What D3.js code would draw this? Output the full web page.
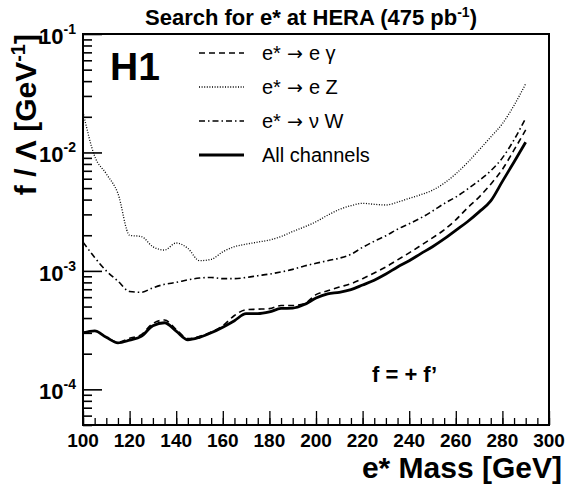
<!DOCTYPE html>
<html>
<head>
<meta charset="utf-8">
<script src="https://cdn.jsdelivr.net/npm/d3@7"></script>
<style>
body { margin: 0; background: #fff; }
svg { display: block; font-family: "Liberation Sans", Arial, Helvetica, sans-serif; }
</style>
</head>
<body>
<div id="chart"></div>
<script>
// e* limit curves, f/Lambda vs mass

var mass = [100,105,110,115,120,125,130,135,140,145,150,155,160,165,170,175,180,185,190,195,
            200,205,210,215,220,225,230,235,240,245,250,255,260,265,270,275,280,285,290];

var eGamma = [3.0e-4,3.12e-4,2.75e-4,2.5e-4,2.7e-4,2.9e-4,3.6e-4,3.85e-4,3.2e-4,2.68e-4,
              2.8e-4,3.05e-4,3.45e-4,4.2e-4,4.7e-4,4.75e-4,4.8e-4,5.1e-4,5.1e-4,5.3e-4,
              6.3e-4,6.8e-4,7.3e-4,7.8e-4,8.6e-4,9.6e-4,1.08e-3,1.24e-3,1.42e-3,1.64e-3,
              1.9e-3,2.22e-3,2.7e-3,3.4e-3,4.2e-3,5.4e-3,7.2e-3,1.05e-2,1.55e-2];

var eZ = [2.2e-2,9.3e-3,6.6e-3,4.5e-3,2.0e-3,1.95e-3,1.6e-3,1.5e-3,1.72e-3,1.55e-3,
          1.22e-3,1.25e-3,1.45e-3,1.6e-3,1.68e-3,1.75e-3,1.82e-3,1.95e-3,2.15e-3,2.35e-3,
          2.6e-3,2.95e-3,3.3e-3,3.55e-3,3.72e-3,3.65e-3,3.6e-3,3.8e-3,4.1e-3,4.4e-3,
          4.8e-3,5.5e-3,6.6e-3,8.2e-3,1.05e-2,1.35e-2,1.75e-2,2.5e-2,3.8e-2];

var nuW = [1.75e-3,1.3e-3,1.0e-3,8.2e-4,6.7e-4,6.6e-4,7.2e-4,7.7e-4,8.0e-4,8.4e-4,
           8.7e-4,8.8e-4,8.6e-4,8.6e-4,8.8e-4,9.1e-4,9.4e-4,9.8e-4,1.03e-3,1.1e-3,
           1.16e-3,1.22e-3,1.28e-3,1.38e-3,1.58e-3,1.78e-3,1.98e-3,2.25e-3,2.5e-3,2.8e-3,
           3.2e-3,3.7e-3,4.2e-3,4.9e-3,5.8e-3,7.0e-3,9.0e-3,1.28e-2,1.95e-2];

var allCh = [3.0e-4,3.12e-4,2.75e-4,2.47e-4,2.6e-4,2.8e-4,3.45e-4,3.65e-4,3.1e-4,2.62e-4,
             2.75e-4,3.0e-4,3.35e-4,3.8e-4,4.35e-4,4.35e-4,4.5e-4,4.82e-4,4.85e-4,5.2e-4,
             5.9e-4,6.4e-4,6.6e-4,6.95e-4,7.6e-4,8.35e-4,9.4e-4,1.08e-3,1.22e-3,1.4e-3,
             1.6e-3,1.86e-3,2.2e-3,2.6e-3,3.15e-3,3.9e-3,5.7e-3,8.3e-3,1.22e-2];

var xTicks = [100,120,140,160,180,200,220,240,260,280,300];
var yMajor = [1e-4, 1e-3, 1e-2, 1e-1];
var yExp = ["-4", "-3", "-2", "-1"];

// legend: [before arrow, after arrow]
var legendNames = [["e*", "e \u03b3"], ["e*", "e Z"], ["e*", "\u03bd W"], ["All channels", null]];
var legendSeries = [eGamma, eZ, nuW, allCh];
var dashes = ["6,4", "1,1.6", "6,3,1.5,3", null];
var widths = [1.6, 1.3, 1.6, 2.8];

// Chart variables
var W = 566, H = 485;
var margin = {top: 34, right: 17, bottom: 60, left: 83};
var width = W - margin.left - margin.right;
var height = H - margin.top - margin.bottom;

var svg = d3.select("#chart").append("svg")
    .attr("width", W)
    .attr("height", H);

var g = svg.append("g")
    .attr("transform", "translate(" + margin.left + "," + margin.top + ")");

// Scales
var x = d3.scaleLinear().domain([100, 300]).range([0, width]);
var y = d3.scaleLog().domain([5e-5, 0.1]).range([height, 0]);

// Minor ticks
var xMinor = d3.range(100, 301, 5);
var yMinor = [];
[1e-5, 1e-4, 1e-3, 1e-2].forEach(function(d) {
    for (var k = 2; k <= 9; k++) {
        var v = d * k;
        if (v >= 5e-5 && v <= 0.1) yMinor.push(v);
    }
});

// x axis ticks (inward)
g.append("g")
    .attr("transform", "translate(0," + height + ")")
    .call(d3.axisBottom(x).tickValues(xMinor).tickSize(-7).tickFormat(""))
    .call(function(s) { s.select(".domain").remove(); s.selectAll("line").attr("stroke-width", 1.3); });

g.append("g")
    .attr("transform", "translate(0," + height + ")")
    .call(d3.axisBottom(x).tickValues(xTicks).tickSize(-14).tickFormat(""))
    .call(function(s) { s.select(".domain").remove(); s.selectAll("line").attr("stroke-width", 1.3); });

// y axis ticks (inward)
g.append("g")
    .call(d3.axisLeft(y).tickValues(yMinor).tickSize(-9).tickFormat(""))
    .call(function(s) { s.select(".domain").remove(); s.selectAll("line").attr("stroke-width", 1.6); });

g.append("g")
    .call(d3.axisLeft(y).tickValues(yMajor).tickSize(-19).tickFormat(""))
    .call(function(s) { s.select(".domain").remove(); s.selectAll("line").attr("stroke-width", 1.6); });

// Frame
g.append("rect")
    .attr("x", 0).attr("y", 0)
    .attr("width", width).attr("height", height)
    .attr("fill", "none")
    .attr("stroke", "#000")
    .attr("stroke-width", 2);

// x tick labels
g.selectAll(".xlab")
    .data(xTicks)
    .enter().append("text")
    .attr("x", function(d) { return x(d); })
    .attr("y", height + 22)
    .attr("text-anchor", "middle")
    .attr("font-size", 19)
    .attr("font-weight", "bold")
    .text(function(d) { return d; });

// y tick labels: 10^n
yMajor.forEach(function(d, i) {
    var t = g.append("text")
        .attr("x", -7)
        .attr("y", y(d) + 10)
        .attr("text-anchor", "end")
        .attr("font-size", 22)
        .attr("font-weight", "bold");
    t.append("tspan").text("10");
    t.append("tspan").attr("dy", -10).attr("font-size", 14).text(yExp[i]);
});

// Curves
var line = d3.line()
    .x(function(d) { return x(d[0]); })
    .y(function(d) { return y(d[1]); })
    .curve(d3.curveMonotoneX);

legendSeries.forEach(function(s, i) {
    g.append("path")
        .datum(mass.map(function(m, j) { return [m, s[j]]; }))
        .attr("d", line)
        .attr("fill", "none")
        .attr("stroke", "#000")
        .attr("stroke-width", widths[i])
        .attr("stroke-dasharray", dashes[i]);
});

// Legend
var legend = svg.append("g");
legendNames.forEach(function(name, i) {
    var ly = 53 + i * 34;
    legend.append("line")
        .attr("x1", 199).attr("x2", 244)
        .attr("y1", ly).attr("y2", ly)
        .attr("stroke", "#000")
        .attr("stroke-width", widths[i])
        .attr("stroke-dasharray", dashes[i]);
    var t = legend.append("text")
        .attr("x", 262)
        .attr("y", ly + 7)
        .attr("font-size", 20);
    t.append("tspan").text(name[0]);
    if (name[1]) {
        t.append("tspan").attr("font-family", "DejaVu Sans").attr("font-size", 19).text(" \u2192 ");
        t.append("tspan").text(name[1]);
    }
});

// H1 label
svg.append("text")
    .attr("x", 110).attr("y", 80)
    .attr("font-size", 39)
    .attr("font-weight", "bold")
    .text("H1");

// f = + f'
svg.append("text")
    .attr("x", 372).attr("y", 382)
    .attr("font-size", 22)
    .attr("font-weight", "bold")
    .text("f = + f\u2019");

// Title
var title = svg.append("text")
    .attr("x", 311).attr("y", 25)
    .attr("text-anchor", "middle")
    .attr("font-size", 22)
    .attr("font-weight", "bold");
title.append("tspan").text("Search for e* at HERA (475 pb");
title.append("tspan").attr("dy", -8).attr("font-size", 14).text("-1");
title.append("tspan").attr("dy", 8).text(")");

// Axis titles
svg.append("text")
    .attr("x", 562).attr("y", 478)
    .attr("text-anchor", "end")
    .attr("font-size", 30)
    .attr("font-weight", "bold")
    .text("e* Mass [GeV]");

var ytitle = svg.append("text")
    .attr("transform", "translate(36," + margin.top + ") rotate(-90)")
    .attr("text-anchor", "end")
    .attr("font-size", 30)
    .attr("font-weight", "bold");
ytitle.append("tspan").text("f / \u039b [GeV");
ytitle.append("tspan").attr("dy", -11).attr("font-size", 20).text("-1");
ytitle.append("tspan").attr("dy", 11).text("]");
</script>
</body>
</html>
